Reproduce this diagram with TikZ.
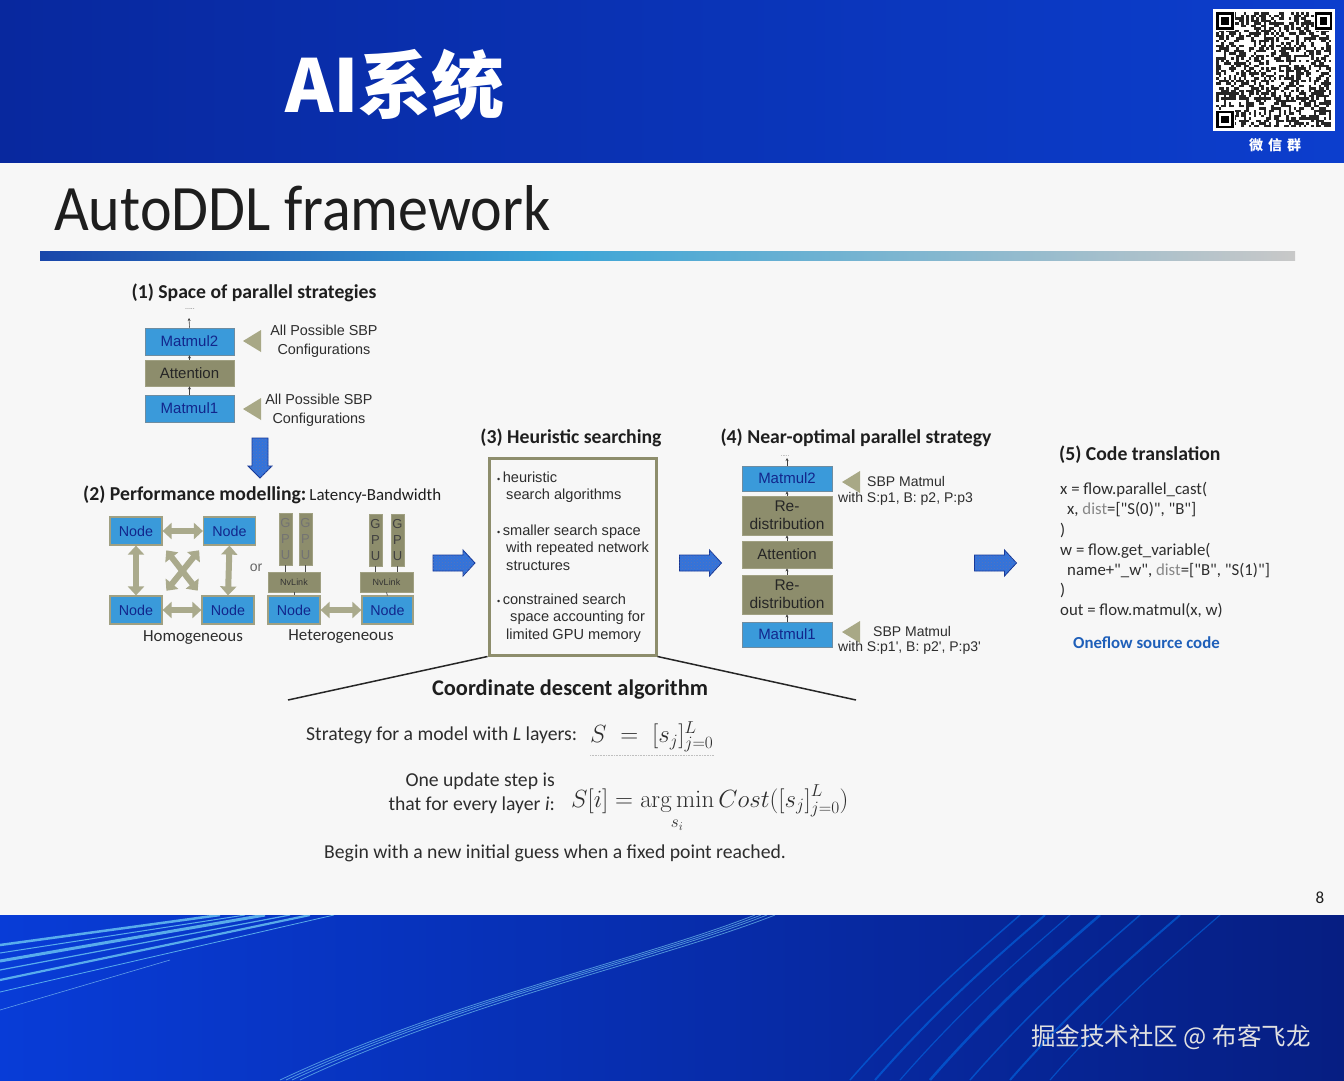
\documentclass[tikz,border=0pt]{standalone}
\usepackage[no-math]{fontspec}
\usepackage{graphicx}
\setmainfont{Carlito}
\newfontfamily\codef{Carlito}[Ligatures=TeXOff]
\newfontfamily\arl{Liberation Sans}
\newfontfamily\cjk{Noto Sans CJK SC}
\usetikzlibrary{shapes.geometric,arrows.meta,calc,patterns}
\definecolor{hdrA}{RGB}{8,40,158}
\definecolor{hdrB}{RGB}{0,52,205}
\definecolor{hdrC}{RGB}{12,62,205}
\definecolor{bgw}{RGB}{247,247,247}
\definecolor{bluefill}{RGB}{58,154,218}
\definecolor{blueedge}{RGB}{110,140,160}
\definecolor{bluetext}{RGB}{18,38,140}
\definecolor{olive1}{RGB}{141,141,108}
\definecolor{olive2}{RGB}{160,160,130}
\definecolor{trifill}{RGB}{168,168,134}
\definecolor{dblc}{RGB}{170,170,140}
\definecolor{arrfill}{RGB}{50,115,220}
\definecolor{arredge}{RGB}{22,55,150}
\definecolor{txtd}{RGB}{30,30,30}
\definecolor{txtm}{RGB}{45,45,45}
\definecolor{codegray}{RGB}{135,135,135}
\definecolor{linkblue}{RGB}{30,95,185}
\definecolor{gradA}{RGB}{25,70,170}
\definecolor{gradB}{RGB}{60,165,215}
\definecolor{gradC}{RGB}{200,200,200}
\definecolor{botA}{RGB}{8,60,215}
\definecolor{botB}{RGB}{6,30,130}
\begin{document}
\begin{tikzpicture}[x=1pt,y=-1pt,
  blubox/.style={draw=blueedge, line width=0.8pt, fill=bluefill, text=bluetext, font=\arl\fontsize{15}{17}\selectfont, inner sep=0pt, minimum width=89pt},
  olvbox/.style={fill=olive1, draw=olive2, line width=0.8pt, text=black!85, font=\arl\fontsize{15}{18}\selectfont, inner sep=0pt, align=center, minimum width=89pt},
  nodebox/.style={fill=bluefill, draw=olive2, line width=1.2pt, text=bluetext, font=\arl\fontsize{14.3}{16}\selectfont, inner sep=0pt, minimum width=52pt, minimum height=28pt},
  gpubox/.style={fill=olive1, draw=olive2, line width=0.8pt, text=black!55, font=\arl\fontsize{13}{16}\selectfont, inner sep=0pt, align=center, minimum width=13pt, minimum height=52pt},
  nvbox/.style={fill=olive1, draw=olive2, line width=0.8pt, text=black!80, font=\arl\fontsize{9}{10}\selectfont, inner sep=0pt, minimum width=52pt, minimum height=20pt},
  dblarr/.style={draw=dblc, line width=6pt, {Triangle[length=9pt,width=16pt]}-{Triangle[length=9pt,width=16pt]}},
  tinyarr/.style={draw=black!75, line width=0.6pt, -{Stealth[length=3pt,width=3pt]}},
  hd/.style={font=\bfseries\fontsize{19.7}{22}\selectfont, text=txtd, inner sep=0pt},
  sm/.style={font=\arl\fontsize{14.4}{19}\selectfont, text=txtm, inner sep=0pt, align=center},
  smw/.style={font=\arl\fontsize{14}{17}\selectfont, text=txtm, inner sep=0pt, anchor=west},
  bul/.style={font=\arl\fontsize{14.6}{17.4}\selectfont, text=txtm, inner sep=0pt, anchor=north west, align=left},
  code/.style={font=\codef\fontsize{16.8}{18}\selectfont, text=txtm, anchor=west, inner sep=0pt},
  body/.style={font=\fontsize{19.7}{22}\selectfont, text=txtm, inner sep=0pt},
  tri/.pic={\fill[trifill] (-9,0) -- (9,-11) -- (9,11) -- cycle;},
  bigarr/.pic={\path[fill=arrfill, draw=arredge, line width=0.8pt] (-21,-8) -- (9,-8) -- (9,-13) -- (21,0) -- (9,13) -- (9,8) -- (-21,8) -- cycle;
    \fill[pattern=crosshatch dots, pattern color=arredge!70] (-21,-8) -- (9,-8) -- (9,-13) -- (21,0) -- (9,13) -- (9,8) -- (-21,8) -- cycle;},
  bigdown/.pic={\path[fill=arrfill, draw=arredge, line width=0.8pt] (-20,-8) -- (8,-8) -- (8,-12) -- (20,0) -- (8,12) -- (8,8) -- (-20,8) -- cycle;
    \fill[pattern=crosshatch dots, pattern color=arredge!70] (-20,-8) -- (8,-8) -- (8,-12) -- (20,0) -- (8,12) -- (8,8) -- (-20,8) -- cycle;}
]
\useasboundingbox (0,0) rectangle (1344,1080);
% ---------- header ----------
\fill[left color=hdrA, middle color=hdrB, right color=hdrC] (0,0) rectangle (1344,163);
\node[font=\cjk\bfseries\fontsize{73}{78}\selectfont, text=white, inner sep=0] (ai) at (395,85) {AI系统};
% QR code
\fill[white] (1213,9) rectangle (1335,131);
\pgfmathsetseed{12345}
\foreach \i in {0,...,45}{\foreach \j in {0,...,45}{%
  \pgfmathrandominteger{\r}{0}{1}%
  \ifnum\r=1 \fill[black!85] (1216+2.5*\i,12+2.5*\j) rectangle ++(2.5,2.5);\fi}}
\foreach \fx/\fy in {1216/12,1314.5/12,1216/110.5}{
  \fill[white] (\fx-1,\fy-1) rectangle ++(20,20);
  \fill[black] (\fx,\fy) rectangle ++(17.5,17.5);
  \fill[white] (\fx+2.5,\fy+2.5) rectangle ++(12.5,12.5);
  \fill[black] (\fx+5,\fy+5) rectangle ++(7.5,7.5);
}
\node[font=\cjk\bfseries\fontsize{14}{15}\selectfont, text=white, inner sep=0] (wx) at (1275,145) {微\hspace{5pt}信\hspace{5pt}群};
% ---------- slide body ----------
\fill[bgw] (0,163) rectangle (1344,915);
\node[anchor=base west, font=\fontsize{60}{64}\selectfont, text=txtd, inner sep=0] (title) at (54,230) {\scalebox{1}[1.08]{AutoDDL framework}};
\fill[left color=gradA, right color=gradB] (40,251) rectangle (560,260);
\fill[left color=gradB, right color=gradC] (559,251) rectangle (1295,260);
% ---------- (1) ----------
\node[hd] (h1) at (254,293) {(1) Space of parallel strategies};
\node[font=\arl\fontsize{7}{7}\selectfont, text=black!60, inner sep=0] (dots1) at (190,309) {.....};
\coordinate (top1) at (189,318);
\node[blubox, minimum height=27pt] (m2) at (189.5,341.5) {Matmul2};
\node[olvbox, minimum height=26pt] (att) at (189.5,373) {Attention};
\node[blubox, minimum height=27pt] (m1) at (189.5,408.5) {Matmul1};
\draw[tinyarr] (m2.north) -- (top1);
\draw[tinyarr] (att.north) -- (m2.south);
\draw[tinyarr] (m1.north) -- (att.south);
\pic at (252,341) {tri};
\pic at (252,409) {tri};
\node[sm] (c1) at (324,341) {All Possible SBP\\Configurations};
\node[sm] (c2) at (319,410) {All Possible SBP\\Configurations};
\pic[rotate=-90] at (260,458) {bigdown};
% ---------- (2) ----------
\node[anchor=west, inner sep=0, text=txtd] (h2) at (83,495) {{\bfseries\fontsize{19.7}{22}\selectfont (2) Performance modelling:} {\fontsize{16.9}{19}\selectfont Latency-Bandwidth}};
\node[nodebox] (n1) at (136,531) {Node};
\node[nodebox] (n2) at (229.5,531) {Node};
\node[nodebox] (n3) at (136,610) {Node};
\node[nodebox] (n4) at (228,610) {Node};
\draw[dblarr] (n1.east) -- (n2.west);
\draw[dblarr] (n3.east) -- (n4.west);
\draw[dblarr] (n1.south) -- (n3.north);
\draw[dblarr] (n2.south) -- (n4.north);
\draw[dblarr, shorten <=6pt, shorten >=6pt] (n1.south east) -- (n4.north west);
\draw[dblarr, shorten <=6pt, shorten >=6pt] (n2.south west) -- (n3.north east);
\node[font=\arl\fontsize{14}{15}\selectfont, text=black!60, inner sep=0] (or) at (256,568) {or};
\node[gpubox] (g1) at (285.5,539) {G\\P\\U};
\node[gpubox] (g2) at (305.5,539) {G\\P\\U};
\node[nvbox] (nv1) at (294,582) {NvLink};
\node[nodebox] (hn1) at (294,610) {Node};
\node[gpubox, text=black!75] (g3) at (375.5,540) {G\\P\\U};
\node[gpubox, text=black!75] (g4) at (397.5,540) {G\\P\\U};
\node[nvbox, minimum width=53pt] (nv2) at (386.5,582) {NvLink};
\node[nodebox, minimum width=51pt] (hn2) at (387.5,610) {Node};
\foreach \g/\v in {g1/nv1,g2/nv1,g3/nv2,g4/nv2}{\draw[black!70, line width=0.7pt] (\g.south) -- (\g.south |- \v.north);}
\draw[black!70, line width=0.7pt] (nv1.south) -- (hn1.north);
\draw[black!70, line width=0.7pt] (nv2.south) -- (hn2.north);
\draw[dblarr] (hn1.east) -- (hn2.west);
\node[font=\fontsize{16.9}{19}\selectfont, text=txtm, inner sep=0] (homo) at (193,638) {Homogeneous};
\node[font=\fontsize{16.9}{19}\selectfont, text=txtm, inner sep=0] (hetero) at (341,637) {Heterogeneous};
% ---------- big right arrows ----------
\pic at (454,563) {bigarr};
\pic at (700.5,563) {bigarr};
\pic at (995.5,563) {bigarr};
% ---------- (3) ----------
\node[hd] (h3) at (571,438) {(3) Heuristic searching};
\node[draw=olive1, line width=3pt, fill=bgw, minimum width=167pt, minimum height=197pt, inner sep=0] (hbox) at (572.5,556.5) {};
\node[bul] (b1) at (497,471.5) {{\fontsize{9}{9}\selectfont•}\,heuristic\\\hspace*{9pt}search algorithms};
\node[bul] (b2) at (497,524.5) {{\fontsize{9}{9}\selectfont•}\,smaller search space\\\hspace*{9pt}with repeated network\\\hspace*{9pt}structures};
\node[bul] (b3) at (497,593.5) {{\fontsize{9}{9}\selectfont•}\,constrained search\\\hspace*{13pt}space accounting for\\\hspace*{9pt}limited GPU memory};
\coordinate (cl) at (288,700);
\coordinate (cr) at (856,700);
\draw[black!85, line width=1.5pt] (hbox.south west) -- (cl);
\draw[black!85, line width=1.5pt] (hbox.south east) -- (cr);
\node[font=\bfseries\fontsize{22.4}{25}\selectfont, text=txtd, inner sep=0] (cda) at (570,690) {Coordinate descent algorithm};
% ---------- (4) ----------
\node[hd] (h4) at (856,438) {(4) Near-optimal parallel strategy};
\node[font=\arl\fontsize{6}{6}\selectfont, text=black!60, inner sep=0] (dots4) at (785,456) {.....};
\coordinate (top4) at (787,458);
\node[blubox, minimum width=90pt, minimum height=25pt] (s5) at (787,478.5) {Matmul2};
\node[olvbox, minimum width=90pt, minimum height=39pt, font=\arl\fontsize{15.5}{18}\selectfont] (s4) at (787,515.5) {Re-\\distribution};
\node[olvbox, minimum width=90pt, minimum height=27pt] (s3) at (787,554.5) {Attention};
\node[olvbox, minimum width=90pt, minimum height=39pt, font=\arl\fontsize{15.5}{18}\selectfont] (s2) at (787,594.5) {Re-\\distribution};
\node[blubox, minimum width=90pt, minimum height=25pt] (s1) at (787,634.5) {Matmul1};
\draw[tinyarr] (s5.north) -- (top4);
\draw[tinyarr] (s4.north) -- (s5.south);
\draw[tinyarr] (s3.north) -- (s4.south);
\draw[tinyarr] (s2.north) -- (s3.south);
\draw[tinyarr] (s1.north) -- (s2.south);
\pic at (851,482) {tri};
\pic at (851,632) {tri};
\node[smw] (sb1) at (867,481) {SBP Matmul};
\node[smw] (sb1w) at (838,499) {with S:p1, B: p2, P:p3};
\node[smw] (sb2) at (873,631) {SBP Matmul};
\node[smw] (sb2w) at (838,648) {with S:p1', B: p2', P:p3'};
% ---------- (5) ----------
\node[hd, anchor=west] (h5) at (1059,455) {(5) Code translation};
\node[code] (l1) at (1060,490) {x = flow.parallel\_cast(};
\node[code] (l2) at (1067,510) {x, {\color{codegray}dist}=["S(0)", "B"]};
\node[code] (l3) at (1060,531) {)};
\node[code] (l4) at (1060,551) {w = flow.get\_variable(};
\node[code] (l5) at (1067,571) {name+"\_w", {\color{codegray}dist}=["B", "S(1)"]};
\node[code] (l6) at (1060,591) {)};
\node[code] (l7) at (1060,611) {out = flow.matmul(x, w)};
\node[code, font=\bfseries\fontsize{16.8}{18}\selectfont, text=linkblue] (src) at (1073,643) {Oneflow source code};
% ---------- formulas ----------
\node[body, anchor=west] (st) at (306,735) {Strategy for a model with \textit{L} layers:};
\node[anchor=west, inner sep=0, text=txtm, font=\fontsize{24}{27}\selectfont] (f1) at (590,737) {$S \;=\; [s_j]_{j=0}^{L}$};
\draw[black!25, densely dotted, line width=0.6pt] ([yshift=-3pt]f1.south west) -- ([yshift=-3pt]f1.south east);
\node[body, anchor=east] (ou1) at (555,781) {One update step is};
\node[body, anchor=east] (ou2) at (555,805) {that for every layer \textit{i}:};
\node[anchor=west, inner sep=0, text=txtm, font=\fontsize{25}{28}\selectfont] (f2) at (571,808) {$\displaystyle S[i] = \mathop{\arg\min}\limits_{\rule{0pt}{14pt}s_i} Cost([s_j]_{j=0}^{L})$};
\node[body, anchor=west] (bg) at (324,853) {Begin with a new initial guess when a fixed point reached.};
\node[font=\fontsize{17}{18}\selectfont, text=txtd, inner sep=0] (pg) at (1320,898) {8};
% ---------- footer ----------
\fill[left color=botA, middle color=botA!80!botB, right color=botB] (0,915) rectangle (1344,1080);
\begin{scope}
\clip (0,915) rectangle (1344,1080);
\foreach \s/\e/\w in {945/220/2.5,953/245/1,961/265/3,970/290/1.2,980/310/2.2,992/334/0.8}{
  \draw[cyan!55!white, line width=\w pt, opacity=0.75] (0,\s) -- (\e,915);}
\draw[cyan!40!white, line width=0.6pt, opacity=0.6] (0,1010) -- (170,960);
\foreach \o in {0,6,12,20}{
  \draw[cyan!50!white, line width=0.8pt, opacity=0.6] (280+\o,1080) .. controls (450+\o,1000) and (640+\o,960) .. (755+\o,915);}
\foreach \o/\w in {0/1.5,25/2,50/1.2,80/2.5,120/1.5,160/2,200/1.2}{
  \draw[blue!50!cyan, line width=\w pt, opacity=0.45] (850+\o,1080) .. controls (920+\o,1000) and (980+\o,950) .. (1020+\o,915);}
\end{scope}
\node[font=\cjk\fontsize{24.5}{26}\selectfont, text=white!88!black, inner sep=0] (wm) at (1171,1037) {掘金技术社区 @ 布客飞龙};
\end{tikzpicture}
\end{document}
